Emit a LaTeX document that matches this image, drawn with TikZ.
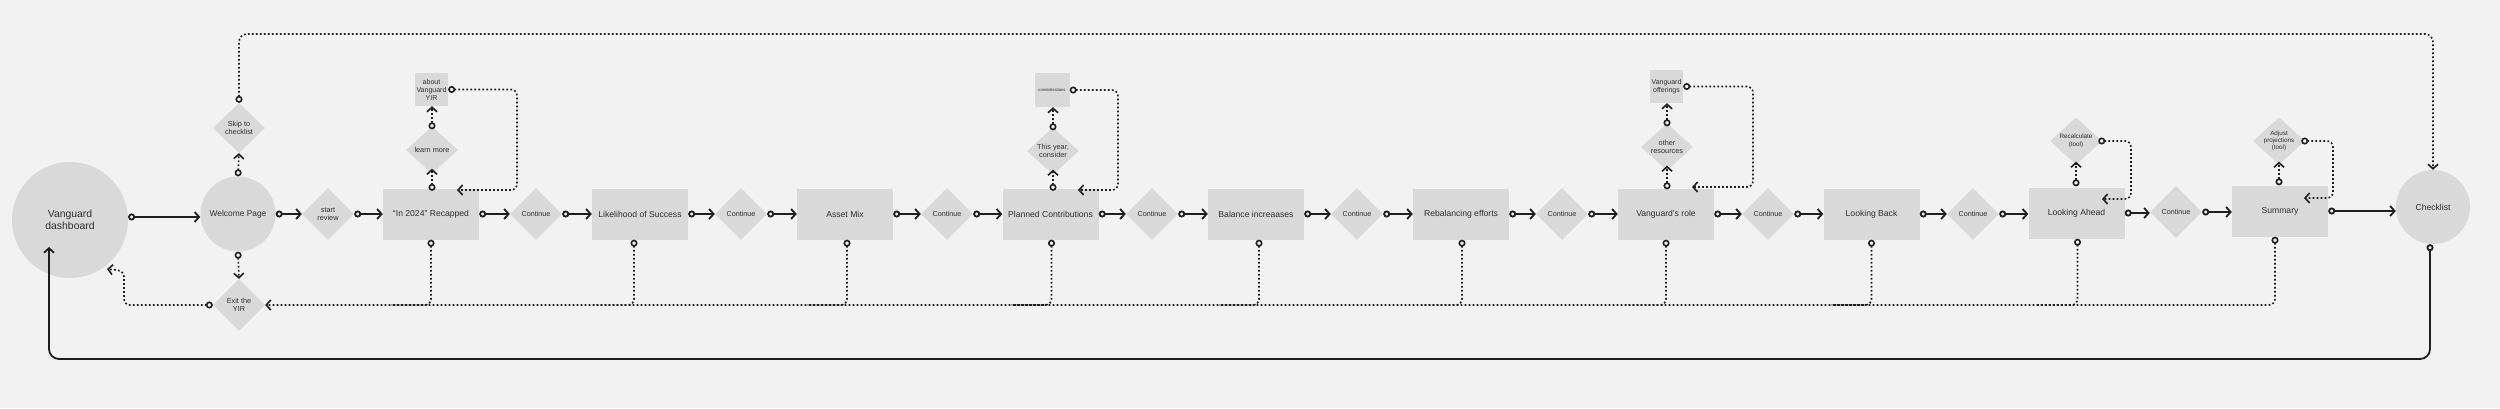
\documentclass[tikz,border=0pt]{standalone}
\usepackage{fontspec}
\setmainfont{Liberation Sans}
\usetikzlibrary{shapes.geometric,arrows.meta,calc}
\definecolor{bgc}{HTML}{F2F2F2}
\definecolor{nodec}{HTML}{D9D9D9}
\definecolor{linec}{HTML}{1E1E1E}
\definecolor{textc}{HTML}{2E2E2E}
\tikzset{
  Mk/.tip={Circle[length=7pt,fill=bgc]},
  Ba/.tip={Straight Barb[length=4.5pt,width=10pt]},
}
\begin{document}
\begin{tikzpicture}[x=1pt,y=-1pt,
  every node/.style={text=textc,inner sep=0pt,align=center},
  box/.style={rectangle,fill=nodec,minimum width=96pt,minimum height=51pt,font=\fontsize{8.6}{10}\selectfont},
  sbox/.style={rectangle,fill=nodec,minimum width=33pt,minimum height=33pt,font=\fontsize{7}{8}\selectfont},
  dia/.style={diamond,aspect=1,fill=nodec,minimum width=52pt,minimum height=52pt,font=\fontsize{7.3}{8}\selectfont},
  udia/.style={dia,aspect=1.1,minimum height=47pt},
  cont/.style={dia,font=\fontsize{7.2}{8}\selectfont},
  tdia/.style={udia,inner sep=-2pt,font=\fontsize{6.3}{7.3}\selectfont},
  circ/.style={circle,fill=nodec},
  link/.style={draw=linec,line width=1.8pt,arrows={Mk-Ba}},
  dlink/.style={link,line width=1.6pt,dash pattern=on 1.8pt off 2.2pt},
  dtail/.style={dlink,arrows={Mk-}},
]
\fill[bgc] (0,0) rectangle (2500,408);
\useasboundingbox (0,0) rectangle (2500,408);

% nodes
\node[circ,minimum size=116pt,font=\fontsize{10.4}{11.7}\selectfont] (dash) at (70,220) {Vanguard\\dashboard};
\node[circ,minimum size=75pt,font=\fontsize{8.4}{10}\selectfont] (welcome) at (238,214) {Welcome Page};
\node[dia,minimum height=50pt] (skip) at (239,128) {Skip to\\checklist};
\node[dia] (exit) at (239,305) {Exit the\\YIR};
\node[dia] (start) at (328,214) {start\\review};
\node[box] (rec) at (431,214) {“In 2024” Recapped};
\node[udia] (learn) at (432,150) {learn more};
\node[sbox] (about) at (431.5,89.5) {about\\Vanguard\\YIR};
\node[cont] (c1) at (536,214) {Continue};
\node[box] (lik) at (640,214) {Likelihood of Success};
\node[cont] (c2) at (741,214) {Continue};
\node[box] (asset) at (845,214) {Asset Mix};
\node[cont] (c3) at (947,214) {Continue};
\node[box] (plan) at (1050.5,214) {Planned Contributions};
\node[udia] (thisyr) at (1053,151) {This year,\\consider};
\node[sbox,minimum width=35pt,minimum height=34pt,font=\fontsize{4.2}{5}\selectfont] (consid) at (1052,90) {considerations};
\node[cont] (c4) at (1152,214) {Continue};
\node[box] (bal) at (1256,214) {Balance increaases};
\node[cont] (c5) at (1357,214) {Continue};
\node[box] (reb) at (1461,214) {Rebalancing efforts};
\node[cont] (c6) at (1562,214) {Continue};
\node[box] (role) at (1666,214) {Vanguard’s role};
\node[udia] (other) at (1667,147) {other\\resources};
\node[sbox] (offer) at (1666.5,86.5) {Vanguard\\offerings};
\node[cont] (c7) at (1768,214) {Continue};
\node[box] (back) at (1871.5,214) {Looking Back};
\node[cont] (c8) at (1973,214) {Continue};
\node[box] (ahead) at (2076.5,213) {Looking Ahead};
\node[tdia] (recalc) at (2076,141) {Recalculate\\(tool)};
\node[cont] (c9) at (2176,212) {Continue};
\node[box] (summ) at (2280,211) {Summary};
\node[tdia] (adjust) at (2279,141) {Adjust\\projections\\(tool)};
\node[circ,minimum size=74pt,font=\fontsize{8.6}{10}\selectfont] (check) at (2433,207) {Checklist};

% helper coordinates
\coordinate (ytop) at (0,34);
\coordinate (ybot) at (0,359);
\coordinate (dashin) at (49,247);
\coordinate (dashex) at (107,269);
\coordinate (recin) at (457,190);
\coordinate (planin) at (1078,190);
\coordinate (rolein) at (1692,187);
\coordinate (aheadin) at (2102,199);
\coordinate (summin) at (2304,198);

% main flow
\draw[link] (dash.3) -- (dash.3 -| welcome.west);
\foreach \a/\b in {welcome/start,start/rec,rec/c1,c1/lik,lik/c2,c2/asset,asset/c3,c3/plan,plan/c4,c4/bal,bal/c5,c5/reb,reb/c6,c6/role,role/c7,c7/back,back/c8,c8/ahead,ahead/c9,c9/summ,summ/check}
  \draw[link] (\a.east) -- (\a.east -| \b.west);

% vertical branches
\draw[dlink] (welcome.north) -- (skip.south);
\draw[dlink] (welcome.south) -- (exit.north);
\draw[dlink] ($(rec.north -| learn)+(0,2.5)$) -- ($(learn.south)+(0,-5)$);
\draw[dlink] ($(learn.north)+(0,3)$) -- (about.south -| learn);
\draw[dlink] ($(plan.north -| thisyr)+(0,2.5)$) -- ($(thisyr.south)+(0,-5)$);
\draw[dlink] ($(thisyr.north)+(0,3)$) -- (consid.south -| thisyr);
\draw[dlink] ($(role.north -| other)+(0,1)$) -- ($(other.south)+(0,-5)$);
\draw[dlink] ($(other.north)+(0,3)$) -- (offer.south -| other);
\draw[dlink] ($(ahead.north -| recalc)+(0,-1)$) -- ($(recalc.south)+(0,-3)$);
\draw[dlink] (summ.north -| adjust) -- ($(adjust.south)+(0,-3)$);

% return loops
\draw[dlink,rounded corners=6pt] (about.east) -| (517,150) |- (recin);
\draw[dlink,rounded corners=6pt] (consid.east) -| (1118,150) |- (planin);
\draw[dlink,rounded corners=6pt] (offer.east) -| (1753,150) |- (rolein);
\draw[dlink,rounded corners=6pt] ($(recalc.east)+(-4,0)$) -| (2131,170) |- (aheadin);
\draw[dlink,rounded corners=6pt] ($(adjust.east)+(-4,0)$) -| (2333,170) |- (summin);

% skip to checklist
\draw[dlink,rounded corners=8pt] (skip.north) |- (check.north |- ytop) -- (check.north);

% exit lines: the Summary line runs to the exit, the others join it
\draw[dlink,rounded corners=6pt] ($(summ.south)+(-5,0)$) |- (exit.east);
\foreach \n/\dx in {rec/0,lik/-6,asset/2,plan/1,bal/3,reb/1,role/0,back/0,ahead/1}
  \draw[dtail,rounded corners=6pt] ($(\n.south)+(\dx,0)$) |- ($(exit.east -| \n.south)+(\dx-40,0)$);
\draw[dlink,rounded corners=6pt] (exit.west) -- (124,305) -- (124,271) -- (dashex);

% checklist back to dashboard
\draw[link,rounded corners=10pt] ($(check.south)+(-3,0)$) |- (dashin |- ybot) -- (dashin);
\end{tikzpicture}
\end{document}
